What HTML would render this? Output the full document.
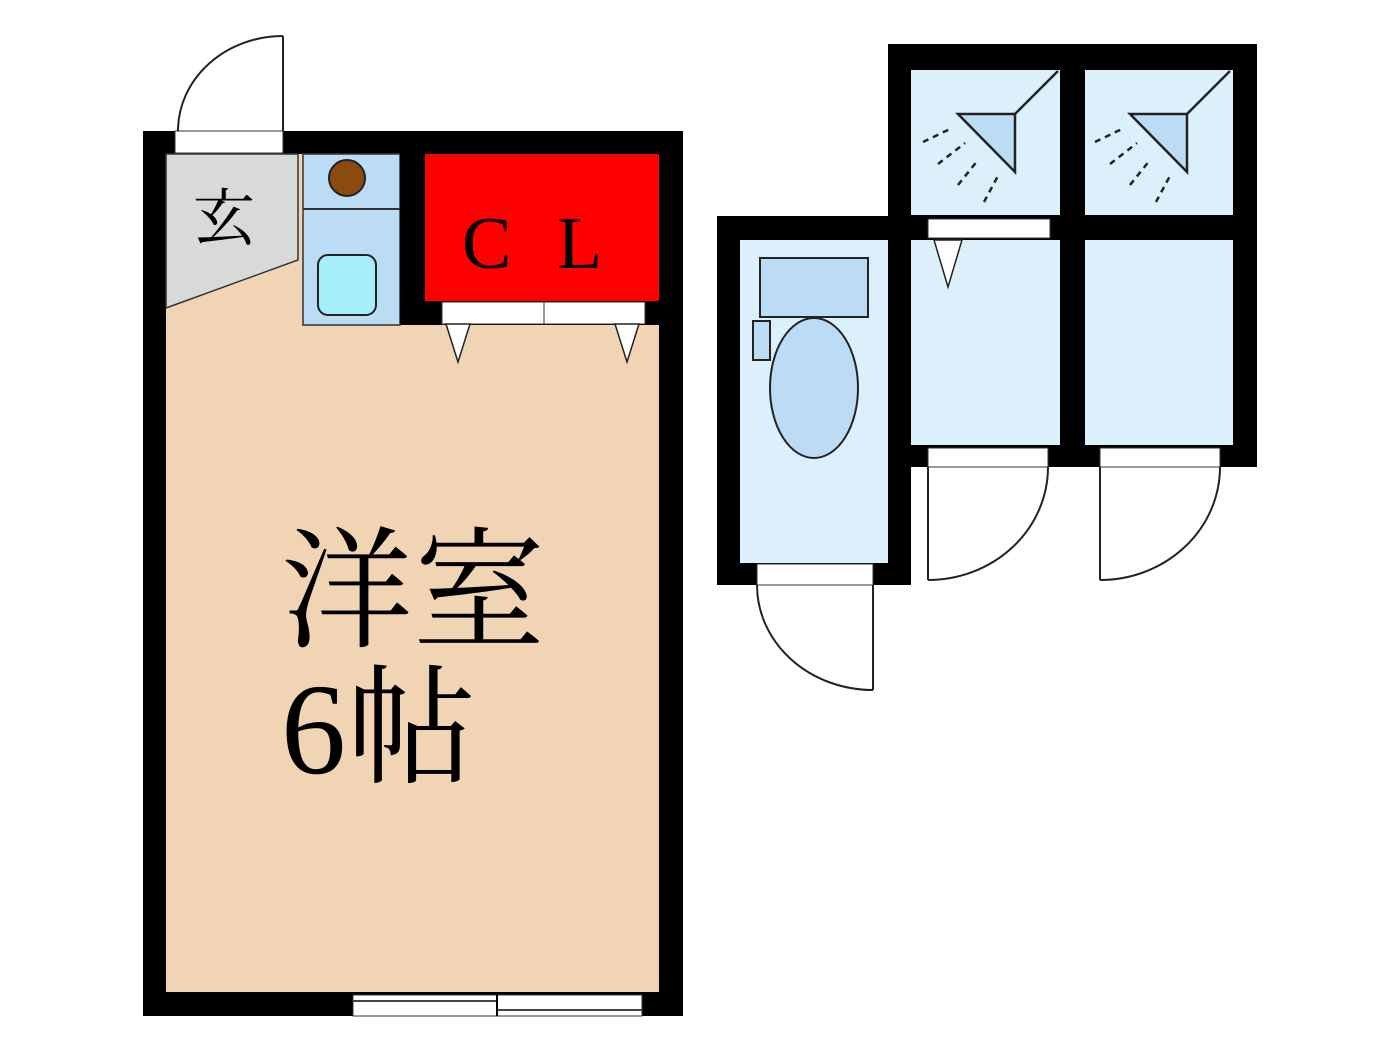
<!DOCTYPE html>
<html><head><meta charset="utf-8"><style>html,body{margin:0;padding:0;background:#fff}svg{display:block}</style></head><body>
<svg width="1400" height="1050" viewBox="0 0 1400 1050" xmlns="http://www.w3.org/2000/svg">
<rect x="143" y="131" width="540" height="885" fill="#000"/>
<rect x="166" y="154" width="493" height="838" fill="#f1d4b4"/>
<polygon points="166,154 298,154 298,260 166,308" fill="#d8d9d9" stroke="#333" stroke-width="1.5"/>
<rect x="303" y="154" width="97" height="171" fill="#bcdcf6" stroke="#333" stroke-width="1.5"/>
<line x1="303" y1="209" x2="400" y2="209" stroke="#333" stroke-width="2"/>
<circle cx="347" cy="178" r="18" fill="#8b4a10" stroke="#222" stroke-width="2"/>
<rect x="318" y="255" width="58" height="60" rx="10" fill="#a6eefa" stroke="#222" stroke-width="2"/>
<rect x="400" y="154" width="25" height="171" fill="#000"/>
<rect x="425" y="154" width="234" height="147" fill="#ff0000"/>
<rect x="425" y="301" width="234" height="24" fill="#000"/>
<rect x="442" y="302" width="102" height="22" fill="#fff" stroke="#333"/>
<rect x="544" y="302" width="101" height="22" fill="#fff" stroke="#333"/>
<polygon points="446,324 470,324 458,362" fill="#fff" stroke="#222" stroke-width="1.5"/>
<polygon points="615,324 639,324 627,362" fill="#fff" stroke="#222" stroke-width="1.5"/>
<text x="462" y="268" font-family="Liberation Serif, Noto Serif CJK SC, serif" font-size="74" fill="#000">C</text>
<text x="557" y="268" font-family="Liberation Serif, Noto Serif CJK SC, serif" font-size="74" fill="#000">L</text>
<text x="193" y="240" font-family="Noto Serif CJK JP, Noto Serif CJK SC, serif" font-size="62" fill="#000">玄</text>
<rect x="175" y="131" width="108" height="22" fill="#fff" stroke="#333"/>
<line x1="283" y1="36" x2="283" y2="131" stroke="#222" stroke-width="2"/>
<path d="M178,131 A105,95 0 0 1 283,36" fill="none" stroke="#222" stroke-width="2"/>
<rect x="353" y="995" width="289" height="21" fill="#fff" stroke="#333"/>
<line x1="353" y1="1001" x2="497" y2="1001" stroke="#444" stroke-width="2"/>
<line x1="497" y1="1010" x2="642" y2="1010" stroke="#444" stroke-width="2"/>
<line x1="497" y1="995" x2="497" y2="1016" stroke="#000" stroke-width="2"/>
<text x="281" y="637" font-family="Noto Serif CJK JP, Noto Serif CJK SC, serif" font-size="132" fill="#000">洋室</text>
<text x="281" y="773" font-family="Liberation Serif, Noto Serif CJK JP, serif" font-size="130" fill="#000">6<tspan font-family="Noto Serif CJK JP, Noto Serif CJK SC, serif">帖</tspan></text>
<rect x="717" y="216" width="194" height="369" fill="#000"/>
<rect x="740" y="240" width="148" height="323" fill="#dcf0fc"/>
<rect x="760" y="258" width="108" height="59" fill="#bcdcf6" stroke="#222" stroke-width="2"/>
<rect x="753" y="321" width="17" height="39" fill="#bcdcf6" stroke="#222" stroke-width="2"/>
<ellipse cx="814" cy="388" rx="44" ry="70" fill="#bcdcf6" stroke="#222" stroke-width="2"/>
<rect x="757" y="564" width="116" height="21" fill="#fff" stroke="#333"/>
<line x1="873" y1="585" x2="873" y2="690" stroke="#222" stroke-width="2"/>
<path d="M757,585 A116,105 0 0 0 873,690" fill="none" stroke="#222" stroke-width="2"/>
<rect x="888" y="44" width="369" height="423" fill="#000"/>
<rect x="911" y="70" width="149" height="145" fill="#dcf0fc"/>
<rect x="1085" y="70" width="148" height="145" fill="#dcf0fc"/>
<rect x="911" y="240" width="149" height="205" fill="#dcf0fc"/>
<rect x="1085" y="240" width="148" height="205" fill="#dcf0fc"/>
<rect x="928" y="219" width="122" height="19" fill="#fff" stroke="#333"/>
<polygon points="934,240 962,240 948,287" fill="#fff" stroke="#222" stroke-width="1.5"/>
<g id="sh">
<polygon points="958,114 1015,114 1015,172" fill="#bcdcf6" stroke="#222" stroke-width="2.5"/>
<line x1="1015" y1="114" x2="1058" y2="71" stroke="#222" stroke-width="2.5"/>
<g stroke="#222" stroke-width="2.5" stroke-dasharray="6,5" fill="none">
<line x1="923" y1="142" x2="952" y2="128"/>
<line x1="938" y1="164" x2="965" y2="143"/>
<line x1="958" y1="185" x2="978" y2="160"/>
<line x1="984" y1="202" x2="999" y2="174"/>
</g>
</g>
<use href="#sh" transform="translate(172,0)"/>
<rect x="928" y="448" width="120" height="19" fill="#fff" stroke="#333"/>
<rect x="1100" y="448" width="120" height="19" fill="#fff" stroke="#333"/>
<line x1="928" y1="467" x2="928" y2="580" stroke="#222" stroke-width="2"/>
<path d="M928,580 A120,113 0 0 0 1048,467" fill="none" stroke="#222" stroke-width="2"/>
<line x1="1100" y1="467" x2="1100" y2="580" stroke="#222" stroke-width="2"/>
<path d="M1100,580 A120,113 0 0 0 1220,467" fill="none" stroke="#222" stroke-width="2"/>
</svg>
</body></html>
